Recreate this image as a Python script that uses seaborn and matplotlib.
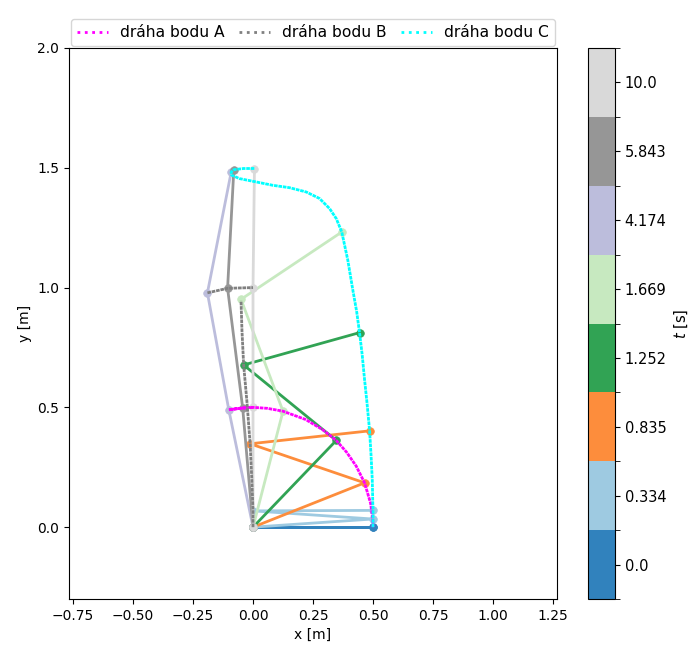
import numpy as np
import matplotlib
matplotlib.use("Agg")
import matplotlib.pyplot as plt
from matplotlib.colors import ListedColormap, BoundaryNorm
from matplotlib.cm import ScalarMappable
from matplotlib.lines import Line2D
from matplotlib.ticker import FixedLocator
import seaborn as sns

# time labels of the drawn positions
times = ["0.0", "0.334", "0.835", "1.252", "1.669", "4.174", "5.843", "10.0"]

# joint positions at each drawn time (O is the fixed origin)
a_x = [0.5, 0.499, 0.465, 0.347, 0.125, -0.101, -0.043, 0.0]
a_y = [0.0, 0.034, 0.185, 0.362, 0.484, 0.490, 0.497, 0.5]
b_x = [0.0, 0.0, -0.012, -0.039, -0.050, -0.190, -0.106, 0.0]
b_y = [0.0, 0.068, 0.348, 0.677, 0.951, 0.978, 0.997, 1.0]
c_x = [0.5, 0.5, 0.486, 0.444, 0.370, -0.091, -0.080, 0.006]
c_y = [0.0, 0.070, 0.402, 0.812, 1.232, 1.482, 1.492, 1.497]

# trajectories
path_a_x = [0.5, 0.499, 0.49, 0.465, 0.43, 0.39, 0.347, 0.29, 0.22, 0.125, 0.06, 0.0, -0.05, -0.101, -0.043, 0.0]
path_a_y = [0.0, 0.034, 0.10, 0.185, 0.255, 0.313, 0.362, 0.407, 0.449, 0.484, 0.496, 0.5, 0.497, 0.490, 0.497, 0.5]
# B: rising part, then the part near y = 1 (the jump between them leaves no visible trace)
path_b_x = [0.0, 0.0, -0.005, -0.012, -0.025, -0.039, -0.046, -0.050]
path_b_y = [0.0, 0.068, 0.20, 0.348, 0.52, 0.677, 0.82, 0.945]
path_b_top_x = [-0.190, -0.106, 0.0]
path_b_top_y = [0.978, 0.997, 1.0]
path_c_x = [0.5, 0.5, 0.497, 0.492, 0.486, 0.475, 0.465, 0.455, 0.444, 0.432, 0.416, 0.395, 0.370,
            0.347, 0.319, 0.277, 0.222, 0.152, 0.082, 0.013, -0.057, -0.090, -0.091, -0.080, -0.040, 0.006]
path_c_y = [0.0, 0.070, 0.20, 0.30, 0.402, 0.52, 0.615, 0.72, 0.812, 0.90, 0.99, 1.115, 1.232,
            1.288, 1.330, 1.372, 1.399, 1.417, 1.427, 1.441, 1.455, 1.470, 1.482, 1.492, 1.497, 1.497]

colors = plt.get_cmap("tab20c").resampled(len(times))(np.arange(len(times)))
cmap = ListedColormap(colors)

fig = plt.figure(figsize=(6.92, 6.46), dpi=100)
ax = fig.add_axes([0.0997, 0.0727, 0.7052, 0.853])
cax = fig.add_axes([0.8497, 0.0727, 0.039, 0.853])

for i in range(len(times)):
    xs = [0.0, a_x[i], b_x[i], c_x[i]]
    ys = [0.0, a_y[i], b_y[i], c_y[i]]
    sns.lineplot(x=xs, y=ys, ax=ax, sort=False, estimator=None, color=colors[i],
                 lw=2, marker="o", markersize=5.5, markeredgecolor=colors[i], mew=0.5)

fine_dots = (0, (1.3, 0.3))
trail = dict(ax=ax, sort=False, estimator=None, lw=2, linestyle=fine_dots, zorder=5)
sns.lineplot(x=path_a_x, y=path_a_y, color="magenta", **trail)
sns.lineplot(x=path_b_x, y=path_b_y, color="gray", **trail)
sns.lineplot(x=path_b_top_x, y=path_b_top_y, color="gray", **trail)
sns.lineplot(x=path_c_x, y=path_c_y, color="cyan", **trail)

ax.set_xlim(-0.767, 1.267)
ax.set_ylim(-0.3, 2.0)
ax.set_xticks([-0.75, -0.5, -0.25, 0.0, 0.25, 0.5, 0.75, 1.0, 1.25])
ax.set_yticks([0.0, 0.5, 1.0, 1.5, 2.0])
ax.set_xlabel("x [m]")
ax.set_ylabel("y [m]")

handles = [Line2D([], [], color="magenta", lw=2, linestyle=":"),
           Line2D([], [], color="gray", lw=2, linestyle=":"),
           Line2D([], [], color="cyan", lw=2, linestyle=":")]
ax.legend(handles, ["dráha bodu A", "dráha bodu B", "dráha bodu C"], loc="lower left",
          bbox_to_anchor=(0, 1.0, 1, 0.1), mode="expand", ncol=3, borderaxespad=0.1,
          fontsize=11.2, columnspacing=0.7)

norm = BoundaryNorm(np.arange(len(times) + 1), len(times))
cbar = fig.colorbar(ScalarMappable(norm=norm, cmap=cmap), cax=cax)
cbar.set_ticks(np.arange(len(times)) + 0.5, labels=times)
cbar.ax.yaxis.set_minor_locator(FixedLocator(np.arange(len(times) + 1)))
cbar.ax.tick_params(which="minor", length=3.5)
cbar.ax.tick_params(which="major", labelsize=10.5)
cbar.set_label("$t$ [s]", fontsize=10.5)

fig.savefig("out.png", dpi=100)
